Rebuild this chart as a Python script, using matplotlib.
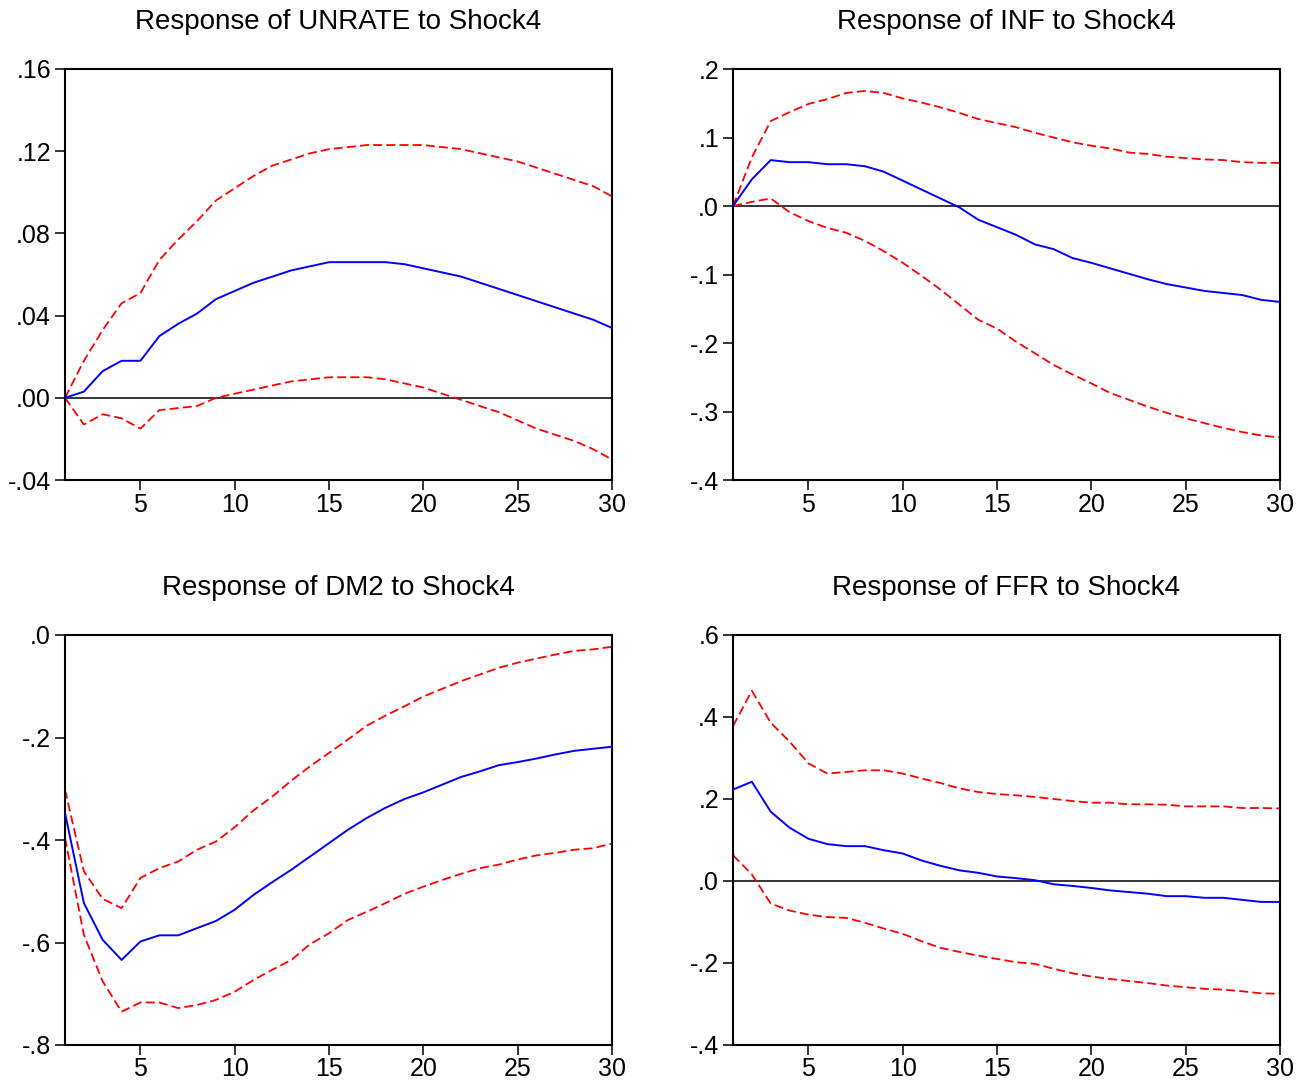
import matplotlib
matplotlib.use("Agg")
import matplotlib.pyplot as plt
import numpy as np

plt.rcParams['font.family'] = ['Liberation Sans', 'DejaVu Sans']

periods = list(range(1, 31))

titles = ["Response of UNRATE to Shock4", "Response of INF to Shock4",
          "Response of DM2 to Shock4", "Response of FFR to Shock4"]

unrate_resp = [0.000, 0.003, 0.013, 0.018, 0.018, 0.030, 0.036, 0.041, 0.048, 0.052,
               0.056, 0.059, 0.062, 0.064, 0.066, 0.066, 0.066, 0.066, 0.065, 0.063,
               0.061, 0.059, 0.056, 0.053, 0.050, 0.047, 0.044, 0.041, 0.038, 0.034]
unrate_up = [0.000, 0.018, 0.033, 0.046, 0.051, 0.067, 0.077, 0.086, 0.096, 0.102,
             0.108, 0.113, 0.116, 0.119, 0.121, 0.122, 0.123, 0.123, 0.123, 0.123,
             0.122, 0.121, 0.119, 0.117, 0.115, 0.112, 0.109, 0.106, 0.103, 0.098]
unrate_lo = [0.000, -0.013, -0.008, -0.010, -0.015, -0.006, -0.005, -0.004, 0.000, 0.002,
             0.004, 0.006, 0.008, 0.009, 0.010, 0.010, 0.010, 0.009, 0.007, 0.005,
             0.002, -0.001, -0.004, -0.007, -0.011, -0.015, -0.018, -0.021, -0.025, -0.030]

inf_resp = [0.000, 0.039, 0.067, 0.064, 0.064, 0.061, 0.061, 0.058, 0.050, 0.037,
            0.024, 0.011, -0.002, -0.020, -0.031, -0.042, -0.056, -0.063, -0.076, -0.083,
            -0.091, -0.099, -0.107, -0.114, -0.119, -0.124, -0.127, -0.130, -0.137, -0.140]
inf_up = [0.000, 0.071, 0.124, 0.137, 0.149, 0.156, 0.165, 0.168, 0.165, 0.157,
          0.151, 0.144, 0.136, 0.127, 0.121, 0.115, 0.107, 0.100, 0.093, 0.088,
          0.084, 0.078, 0.076, 0.072, 0.070, 0.068, 0.067, 0.064, 0.063, 0.063]
inf_lo = [0.000, 0.006, 0.011, -0.009, -0.022, -0.032, -0.039, -0.051, -0.066, -0.083,
          -0.102, -0.122, -0.144, -0.166, -0.179, -0.198, -0.215, -0.232, -0.246, -0.259,
          -0.273, -0.283, -0.293, -0.302, -0.310, -0.317, -0.324, -0.330, -0.335, -0.338]

dm2_resp = [-0.347, -0.523, -0.595, -0.634, -0.598, -0.586, -0.586, -0.572, -0.558, -0.536,
            -0.507, -0.482, -0.458, -0.432, -0.406, -0.380, -0.357, -0.337, -0.320, -0.307,
            -0.292, -0.277, -0.266, -0.254, -0.248, -0.241, -0.233, -0.226, -0.222, -0.218]
dm2_up = [-0.302, -0.461, -0.515, -0.533, -0.474, -0.455, -0.442, -0.419, -0.403, -0.375,
          -0.342, -0.315, -0.284, -0.256, -0.230, -0.204, -0.177, -0.157, -0.139, -0.120,
          -0.105, -0.090, -0.077, -0.064, -0.054, -0.046, -0.038, -0.031, -0.028, -0.023]
dm2_lo = [-0.396, -0.585, -0.676, -0.735, -0.717, -0.717, -0.728, -0.722, -0.712, -0.696,
          -0.673, -0.653, -0.634, -0.603, -0.582, -0.556, -0.540, -0.523, -0.505, -0.491,
          -0.478, -0.466, -0.455, -0.448, -0.438, -0.430, -0.425, -0.419, -0.416, -0.407]

ffr_resp = [0.223, 0.242, 0.169, 0.130, 0.103, 0.090, 0.085, 0.085, 0.075, 0.067,
            0.050, 0.037, 0.026, 0.020, 0.011, 0.007, 0.002, -0.008, -0.012, -0.017,
            -0.023, -0.027, -0.031, -0.037, -0.037, -0.041, -0.041, -0.046, -0.051, -0.051]
ffr_up = [0.378, 0.464, 0.386, 0.340, 0.287, 0.262, 0.266, 0.270, 0.270, 0.262,
          0.250, 0.239, 0.226, 0.217, 0.212, 0.209, 0.205, 0.200, 0.195, 0.191,
          0.191, 0.187, 0.187, 0.186, 0.182, 0.182, 0.182, 0.178, 0.178, 0.177]
ffr_lo = [0.063, 0.016, -0.055, -0.072, -0.082, -0.088, -0.090, -0.102, -0.116, -0.129,
          -0.147, -0.163, -0.173, -0.182, -0.190, -0.198, -0.202, -0.214, -0.225, -0.233,
          -0.239, -0.244, -0.249, -0.255, -0.259, -0.263, -0.265, -0.269, -0.274, -0.275]

unrate_yticks = [-0.04, 0.00, 0.04, 0.08, 0.12, 0.16]
unrate_ylabels = ["-.04", ".00", ".04", ".08", ".12", ".16"]
inf_yticks = [-0.4, -0.3, -0.2, -0.1, 0.0, 0.1, 0.2]
inf_ylabels = ["-.4", "-.3", "-.2", "-.1", ".0", ".1", ".2"]
dm2_yticks = [-0.8, -0.6, -0.4, -0.2, 0.0]
dm2_ylabels = ["-.8", "-.6", "-.4", "-.2", ".0"]
ffr_yticks = [-0.4, -0.2, 0.0, 0.2, 0.4, 0.6]
ffr_ylabels = ["-.4", "-.2", ".0", ".2", ".4", ".6"]

xticks = [5, 10, 15, 20, 25, 30]

panels = [
    (unrate_resp, unrate_up, unrate_lo, unrate_yticks, unrate_ylabels),
    (inf_resp, inf_up, inf_lo, inf_yticks, inf_ylabels),
    (dm2_resp, dm2_up, dm2_lo, dm2_yticks, dm2_ylabels),
    (ffr_resp, ffr_up, ffr_lo, ffr_yticks, ffr_ylabels),
]

W, H = 1312, 1083
fig = plt.figure(figsize=(W / 100, H / 100), dpi=100)

boxes = [(65, 69, 612, 480), (733, 69, 1280, 480),
         (65, 635, 612, 1045), (733, 635, 1280, 1045)]

for (resp, up, lo, yt, yl), title, (x0, y0, x1, y1) in zip(panels, titles, boxes):
    ax = fig.add_axes([x0 / W, 1 - y1 / H, (x1 - x0) / W, (y1 - y0) / H])
    ax.axhline(0, color="black", lw=1.1, zorder=1)
    ax.plot(periods, up, color="#FF0000", lw=1.3, dashes=(5, 2.3), zorder=2)
    ax.plot(periods, lo, color="#FF0000", lw=1.3, dashes=(5, 2.3), zorder=2)
    ax.plot(periods, resp, color="#0000FF", lw=1.4, zorder=3)
    ax.set_xlim(1, 30)
    ax.set_ylim(yt[0], yt[-1])
    ax.set_xticks(xticks)
    ax.set_xticklabels([str(t) for t in xticks])
    ax.set_yticks(yt)
    ax.set_yticklabels(yl)
    ax.tick_params(direction="out", length=7, width=1.1, labelsize=18, color="black")
    ax.tick_params(axis="x", pad=2)
    ax.tick_params(axis="y", pad=3)
    for s in ax.spines.values():
        s.set_linewidth(1.5)
        s.set_color("black")
    ax.set_title(title, fontsize=20, pad=29)

fig.savefig("out.png", dpi=100)
